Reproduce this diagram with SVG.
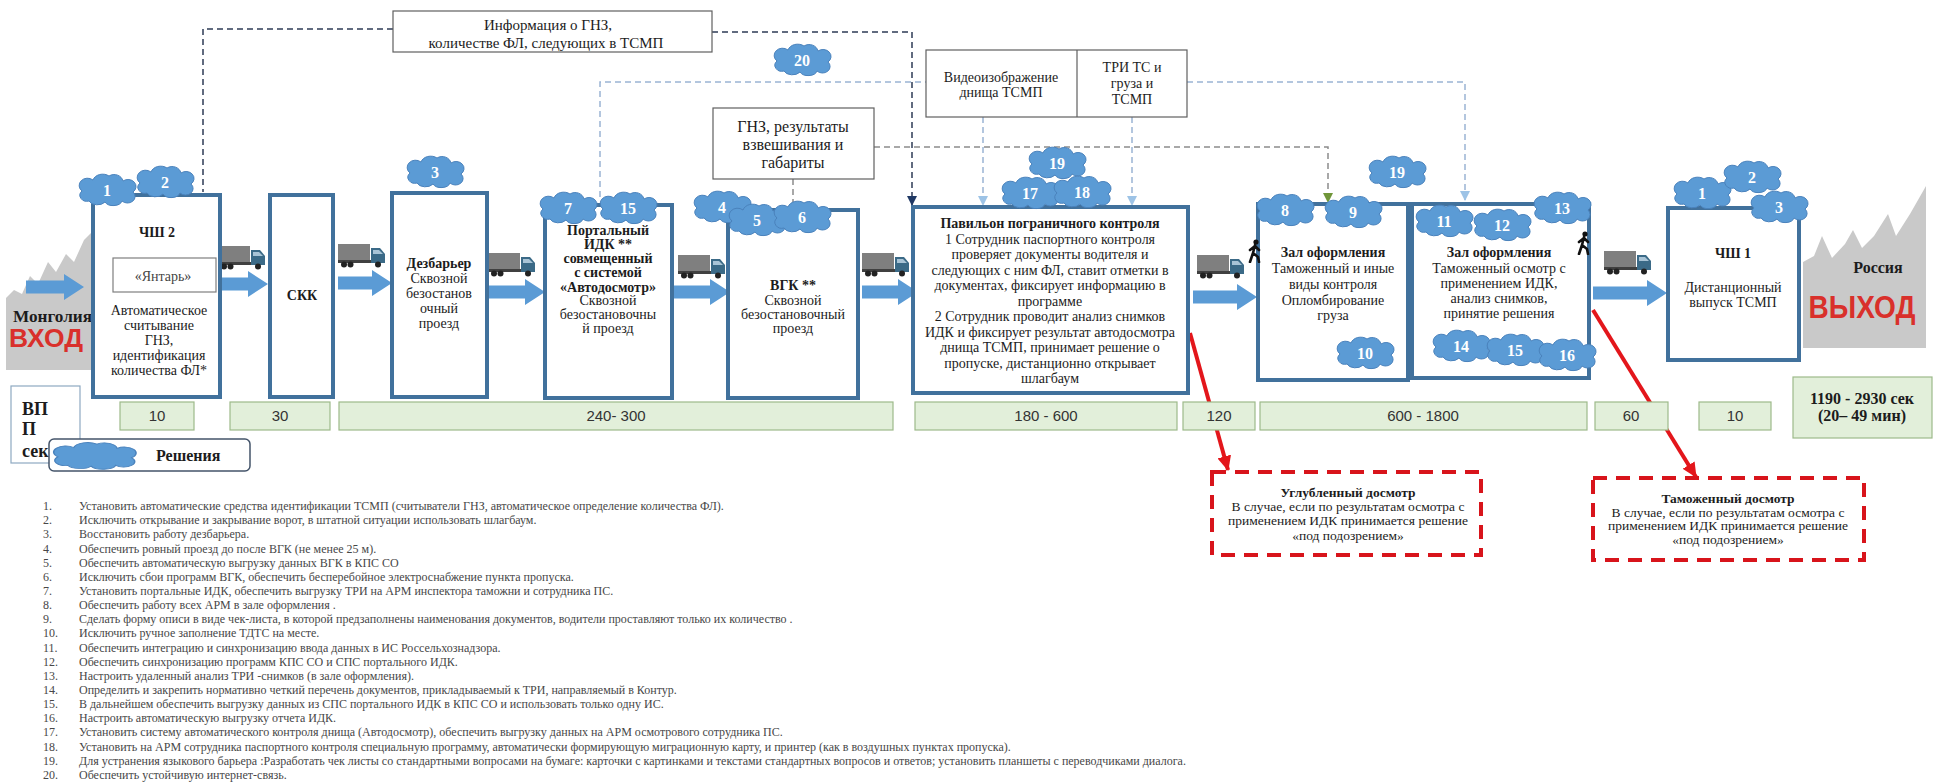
<svg xmlns="http://www.w3.org/2000/svg" xmlns:xlink="http://www.w3.org/1999/xlink" width="1935" height="783" viewBox="0 0 1935 783">
  <style>
    .box { fill: #ffffff; stroke: #41719C; stroke-width: 4; }
    .lbl { fill: #ffffff; stroke: #5f5f5f; stroke-width: 1.2; }
    .t { font-family: "Liberation Serif", "Times New Roman", serif; font-size: 14px; fill: #1c1c1c; text-anchor: middle; }
    .t13 { font-size: 13.5px; }
    .t15 { font-size: 15px; }
    .t16 { font-size: 16px; }
    .b { font-weight: bold; }
    .time { fill: #E2EFDA; stroke: #9DB98A; stroke-width: 1.2; }
    .tt { font-family: "Liberation Sans", Arial, sans-serif; font-size: 15px; fill: #333333; text-anchor: middle; }
    .cn { font-family: "Liberation Serif", "Times New Roman", serif; font-weight: bold; font-size: 16px; fill: #ffffff; text-anchor: middle; }
    .flow { fill: #5B9BD5; }
    .dk { fill: none; stroke: #2E3B55; stroke-width: 1.5; stroke-dasharray: 6 4; }
    .lb { fill: none; stroke: #9BB4D4; stroke-width: 1.5; stroke-dasharray: 6 4; }
    .gr { fill: none; stroke: #8C8C8C; stroke-width: 1.5; stroke-dasharray: 6 4; }
    .red { fill: none; stroke: #E3161B; stroke-width: 4; }
    .rbox { fill: #ffffff; stroke: #D8141B; stroke-width: 4; stroke-dasharray: 14 9; }
    .list { font-family: "Liberation Serif", "Times New Roman", serif; font-size: 12px; fill: #474747; }
    .mount { fill: #C9C9C9; }
  </style>
  <defs>
    <path id="cloud" d="M -18,11 A 7,6 0 0 1 -25,1 A 8,7 0 0 1 -14,-10 A 10,8 0 0 1 2,-14 A 9,8 0 0 1 16,-9 A 8,7 0 0 1 26,2 A 7,6 0 0 1 15,11 A 9,6 0 0 1 -2,12 A 9,6 0 0 1 -18,11 Z" fill="#5B9BD5" stroke="#4A82BC" stroke-width="1"/>
    <symbol id="truck" viewBox="0 0 48 24" width="48" height="24">
      <rect x="0" y="0" width="32" height="17" fill="#7F7F7F"/>
      <rect x="0" y="16" width="47" height="3" fill="#404040"/>
      <path d="M33,4 L42,4 L47,10 L47,19 L33,19 Z" fill="#3B6A87"/>
      <path d="M35,6 L41,6 L45,10 L35,10 Z" fill="#A9C4D6"/>
      <circle cx="6" cy="20.5" r="3" fill="#222222"/>
      <circle cx="12.5" cy="20.5" r="3" fill="#222222"/>
      <circle cx="40" cy="20.5" r="3" fill="#222222"/>
    </symbol>
    <symbol id="walker" viewBox="0 0 14 24" width="14" height="24">
      <circle cx="8" cy="3" r="2.6" fill="#111111"/>
      <path d="M7,6 L5,14 M7,7 L2,11 M7,7 L11,11 M5,14 L2,23 M5,14 L10,18 L11,23" stroke="#111111" stroke-width="2.6" fill="none" stroke-linecap="round" stroke-linejoin="round"/>
    </symbol>
    <marker id="mDk" markerUnits="userSpaceOnUse" markerWidth="12" markerHeight="10" refX="10" refY="5" orient="auto">
      <path d="M0,0 L10,5 L0,10 Z" fill="#1F3864"/>
    </marker>
    <marker id="mLb" markerUnits="userSpaceOnUse" markerWidth="12" markerHeight="10" refX="10" refY="5" orient="auto">
      <path d="M0,0 L10,5 L0,10 Z" fill="#9DC3E6"/>
    </marker>
    <marker id="mGn" markerUnits="userSpaceOnUse" markerWidth="12" markerHeight="10" refX="10" refY="5" orient="auto">
      <path d="M0,0 L10,5 L0,10 Z" fill="#70963A"/>
    </marker>
    <marker id="mRed" markerUnits="userSpaceOnUse" markerWidth="16" markerHeight="14" refX="14" refY="7" orient="auto">
      <path d="M0,0 L15,7 L0,14 Z" fill="#E3161B"/>
    </marker>
  </defs>

  <rect width="1935" height="783" fill="#ffffff"/>

  <!-- border areas -->
  <g id="mongolia">
    <polygon class="mount" points="6,370 6,298 14,290 22,294 30,276 38,284 48,262 56,272 66,254 74,262 84,240 92,232 92,370"/>
    <text x="13" y="322" class="t b" style="text-anchor:start;font-size:16px" textLength="79" lengthAdjust="spacingAndGlyphs">Монголия</text>
    <text x="9" y="347" style="font-family:'Liberation Sans',Arial,sans-serif;font-weight:bold;font-size:26px;fill:#D9302B" textLength="74" lengthAdjust="spacingAndGlyphs">ВХОД</text>
  </g>
  <g id="russia">
    <polygon class="mount" points="1803,348 1803,262 1814,256 1822,236 1832,258 1845,244 1853,230 1862,248 1874,236 1888,214 1896,236 1910,214 1926,186 1926,348"/>
    <text x="1878" y="273" class="t b t16">Россия</text>
    <text x="1862" y="318" style="font-family:'Liberation Sans',Arial,sans-serif;font-weight:bold;font-size:32px;fill:#D9302B;text-anchor:middle" textLength="107" lengthAdjust="spacingAndGlyphs">ВЫХОД</text>
  </g>

  <!-- connectors -->
  <g id="connectors">
    <!-- flow of vehicles -->
    <path class="flow" d="M26,280.5 L64,280.5 L64,274 L84,287 L64,300 L64,293.5 L26,293.5 Z"/>
    <path class="flow" d="M215,277.5 L248,277.5 L248,271 L268,284 L248,297 L248,290.5 L215,290.5 Z"/>
    <path class="flow" d="M338,276.5 L372,276.5 L372,270 L392,283 L372,296 L372,289.5 L338,289.5 Z"/>
    <path class="flow" d="M488,285.5 L525,285.5 L525,279 L545,292 L525,305 L525,298.5 L488,298.5 Z"/>
    <path class="flow" d="M673,285.5 L710,285.5 L710,279 L730,292 L710,305 L710,298.5 L673,298.5 Z"/>
    <path class="flow" d="M862,285.5 L898,285.5 L898,279 L918,292 L898,305 L898,298.5 L862,298.5 Z"/>
    <path class="flow" d="M1193,290.5 L1237,290.5 L1237,284 L1257,297 L1237,310 L1237,303.5 L1193,303.5 Z"/>
    <path class="flow" d="M1593,286.5 L1647,286.5 L1647,280 L1667,293 L1647,306 L1647,299.5 L1593,299.5 Z"/>
    <!-- information links -->
    <path class="dk" d="M393,29 L203,29 L203,192"/>
    <path class="dk" d="M712,32 L912,32 L912,206" marker-end="url(#mDk)"/>
    <path class="lb" d="M600,197 L600,82 L926,82"/>
    <path class="lb" d="M1187,82 L1465,82 L1465,201" marker-end="url(#mLb)"/>
    <path class="lb" d="M983,117 L983,206" marker-end="url(#mLb)"/>
    <path class="lb" d="M1132,117 L1132,206" marker-end="url(#mLb)"/>
    <path class="gr" d="M793,179 L793,205"/>
    <path class="gr" d="M874,147 L1328,147 L1328,203" marker-end="url(#mGn)"/>
    <!-- exceptions -->
    <path class="red" d="M1190,333 L1228,470" marker-end="url(#mRed)"/>
    <path class="red" d="M1593,310 L1696,477" marker-end="url(#mRed)"/>
  </g>

  <!-- trucks -->
  <g id="trucks">
    <use xlink:href="#truck" x="218" y="246"/>
    <use xlink:href="#truck" x="338" y="244"/>
    <use xlink:href="#truck" x="488" y="253"/>
    <use xlink:href="#truck" x="678" y="255"/>
    <use xlink:href="#truck" x="862" y="253"/>
    <use xlink:href="#truck" x="1197" y="255"/>
    <use xlink:href="#truck" x="1604" y="251"/>
  </g>

  <!-- stations -->
  <g id="node-chsh2">
    <rect class="box" x="93" y="195" width="127" height="202"/>
    <text x="157" y="237" class="t b">ЧШ 2</text>
    <rect class="lbl" x="113" y="258" width="103" height="34" style="stroke:#7f7f7f"/>
    <text x="163" y="281" class="t" style="fill:#444">«Янтарь»</text>
    <text x="159" y="315" class="t">Автоматическое</text>
    <text x="159" y="330" class="t">считывание</text>
    <text x="159" y="345" class="t">ГНЗ,</text>
    <text x="159" y="360" class="t">идентификация</text>
    <text x="159" y="375" class="t">количества ФЛ*</text>
  </g>

  <g id="node-skk">
    <rect class="box" x="270" y="195" width="63" height="202"/>
    <text x="302" y="300" class="t b">СКК</text>
  </g>

  <g id="node-dezbar">
    <rect class="box" x="392" y="193" width="95" height="204"/>
    <text x="439" y="268" class="t b">Дезбарьер</text>
    <text x="439" y="283" class="t">Сквозной</text>
    <text x="439" y="298" class="t">безостанов</text>
    <text x="439" y="313" class="t">очный</text>
    <text x="439" y="328" class="t">проезд</text>
  </g>

  <g id="node-portal">
    <rect class="box" x="545" y="205" width="127" height="193"/>
    <text x="608" y="235" class="t b">Портальный</text>
    <text x="608" y="249" class="t b">ИДК **</text>
    <text x="608" y="263" class="t b">совмещенный</text>
    <text x="608" y="277" class="t b">с системой</text>
    <text x="608" y="292" class="t b">«Автодосмотр»</text>
    <text x="608" y="305" class="t">Сквозной</text>
    <text x="608" y="319" class="t">безостановочны</text>
    <text x="608" y="333" class="t">й проезд</text>
  </g>

  <g id="node-vgk">
    <rect class="box" x="728" y="210" width="130" height="188"/>
    <text x="793" y="290" class="t b">ВГК **</text>
    <text x="793" y="305" class="t">Сквозной</text>
    <text x="793" y="319" class="t">безостановочный</text>
    <text x="793" y="333" class="t">проезд</text>
  </g>

  <g id="node-pavilion">
    <rect class="box" x="913" y="207" width="275" height="186"/>
    <text x="1050" y="228" class="t b">Павильон  пограничного контроля</text>
    <text x="1050" y="243.5" class="t">1 Сотрудник паспортного контроля</text>
    <text x="1050" y="259" class="t">проверяет документы водителя и</text>
    <text x="1050" y="274.5" class="t">следующих с ним ФЛ, ставит отметки в</text>
    <text x="1050" y="290" class="t">документах, фиксирует информацию в</text>
    <text x="1050" y="305.5" class="t">программе</text>
    <text x="1050" y="321" class="t">2 Сотрудник проводит анализ снимков</text>
    <text x="1050" y="336.5" class="t">ИДК и фиксирует результат автодосмотра</text>
    <text x="1050" y="352" class="t">днища ТСМП, принимает решение о</text>
    <text x="1050" y="367.5" class="t">пропуске, дистанционно открывает</text>
    <text x="1050" y="383" class="t">шлагбаум</text>
  </g>

  <g id="node-zal1">
    <rect class="box" x="1258" y="204" width="150" height="176"/>
    <use xlink:href="#walker" x="1248" y="239"/>
    <text x="1333" y="257" class="t b">Зал оформления</text>
    <text x="1333" y="273" class="t">Таможенный и иные</text>
    <text x="1333" y="289" class="t">виды контроля</text>
    <text x="1333" y="305" class="t">Опломбирование</text>
    <text x="1333" y="320" class="t">груза</text>
  </g>

  <g id="node-zal2">
    <rect class="box" x="1412" y="204" width="177" height="174"/>
    <use xlink:href="#walker" x="1577" y="231"/>
    <text x="1499" y="257" class="t b">Зал оформления</text>
    <text x="1499" y="273" class="t">Таможенный осмотр с</text>
    <text x="1499" y="288" class="t">применением ИДК,</text>
    <text x="1499" y="303" class="t">анализ снимков,</text>
    <text x="1499" y="318" class="t">принятие решения</text>
  </g>

  <g id="node-chsh1">
    <rect class="box" x="1668" y="208" width="131" height="152"/>
    <text x="1733" y="258" class="t b">ЧШ 1</text>
    <text x="1733" y="292" class="t">Дистанционный</text>
    <text x="1733" y="307" class="t">выпуск ТСМП</text>
  </g>

  <!-- information labels -->
  <g id="node-info">
    <rect class="lbl" x="393" y="11" width="319" height="41"/>
    <text x="548" y="30" class="t t15">Информация о ГНЗ,</text>
    <text x="546" y="48" class="t t15">количестве ФЛ, следующих в ТСМП</text>
  </g>

  <g id="node-gnz">
    <rect class="lbl" x="713" y="108" width="161" height="71"/>
    <text x="793" y="132" class="t t16">ГНЗ, результаты</text>
    <text x="793" y="150" class="t t16">взвешивания и</text>
    <text x="793" y="168" class="t t16">габариты</text>
  </g>

  <g id="node-video">
    <rect class="lbl" x="926" y="50" width="261" height="67"/>
    <line x1="1077" y1="50" x2="1077" y2="117" stroke="#5f5f5f" stroke-width="1.2"/>
    <text x="1001" y="82" class="t">Видеоизображение</text>
    <text x="1001" y="97" class="t">днища ТСМП</text>
    <text x="1132" y="72" class="t">ТРИ ТС и</text>
    <text x="1132" y="88" class="t">груза и</text>
    <text x="1132" y="104" class="t">ТСМП</text>
  </g>

  <!-- in-depth inspection outcomes -->
  <g id="node-deep">
    <rect class="rbox" x="1212" y="472" width="269" height="83"/>
    <text x="1348" y="497" class="t t13 b">Углубленный  досмотр</text>
    <text x="1348" y="511" class="t t13">В случае, если по результатам осмотра с</text>
    <text x="1348" y="525" class="t t13">применением ИДК принимается решение</text>
    <text x="1348" y="540" class="t t13">«под подозрением»</text>
  </g>

  <g id="node-customs">
    <rect class="rbox" x="1593" y="478" width="271" height="82"/>
    <text x="1728" y="503" class="t t13 b">Таможенный  досмотр</text>
    <text x="1728" y="517" class="t t13">В случае, если по результатам осмотра с</text>
    <text x="1728" y="530" class="t t13">применением ИДК принимается решение</text>
    <text x="1728" y="544" class="t t13">«под подозрением»</text>
  </g>

  <!-- time per stage, seconds -->
  <g id="times">
    <rect class="time" x="120" y="402" width="74" height="28"/>
    <text x="157" y="421" class="tt">10</text>
    <rect class="time" x="230" y="402" width="100" height="28"/>
    <text x="280" y="421" class="tt">30</text>
    <rect class="time" x="339" y="402" width="554" height="28"/>
    <text x="616" y="421" class="tt">240- 300</text>
    <rect class="time" x="915" y="402" width="262" height="28"/>
    <text x="1046" y="421" class="tt">180 - 600</text>
    <rect class="time" x="1183" y="402" width="72" height="28"/>
    <text x="1219" y="421" class="tt">120</text>
    <rect class="time" x="1260" y="402" width="327" height="28"/>
    <text x="1423" y="421" class="tt">600 - 1800</text>
    <rect class="time" x="1595" y="402" width="73" height="28"/>
    <text x="1631" y="421" class="tt">60</text>
    <rect class="time" x="1699" y="402" width="72" height="28"/>
    <text x="1735" y="421" class="tt">10</text>
    <rect class="time" x="1793" y="377" width="139" height="61"/>
    <text x="1862" y="404" class="t t16 b">1190 - 2930 сек</text>
    <text x="1862" y="421" class="t t16 b">(20– 49 мин)</text>
  </g>

  <!-- legend -->
  <g id="legend">
    <rect x="11" y="386" width="69" height="77" fill="#ffffff" stroke="#8EA9C1" stroke-width="1.2"/>
    <rect x="49" y="439" width="201" height="32" rx="5" fill="#ffffff" stroke="#44546A" stroke-width="1.5"/>
    <use xlink:href="#cloud" transform="translate(94,456) scale(1.45,0.85)"/>
    <text x="22" y="415" class="t b" style="text-anchor:start;font-size:18px">ВП</text>
    <text x="22" y="435" class="t b" style="text-anchor:start;font-size:18px">П</text>
    <text x="22" y="457" class="t b" style="text-anchor:start;font-size:18px">сек</text>
    <text x="156" y="461" class="t b t16" style="text-anchor:start">Решения</text>
  </g>

  <!-- numbered solutions -->
  <g id="solutions">
    <g id="s1a"><use xlink:href="#cloud" transform="translate(107,190)"/><text x="107" y="196" class="cn">1</text></g>
    <g id="s2a"><use xlink:href="#cloud" transform="translate(165,182)"/><text x="165" y="188" class="cn">2</text></g>
    <g id="s3a"><use xlink:href="#cloud" transform="translate(435,172)"/><text x="435" y="178" class="cn">3</text></g>
    <g id="s7"><use xlink:href="#cloud" transform="translate(568,208)"/><text x="568" y="214" class="cn">7</text></g>
    <g id="s15a"><use xlink:href="#cloud" transform="translate(628,208)"/><text x="628" y="214" class="cn">15</text></g>
    <g id="s4"><use xlink:href="#cloud" transform="translate(722,207)"/><text x="722" y="213" class="cn">4</text></g>
    <g id="s5"><use xlink:href="#cloud" transform="translate(757,220)"/><text x="757" y="226" class="cn">5</text></g>
    <g id="s6"><use xlink:href="#cloud" transform="translate(802,217)"/><text x="802" y="223" class="cn">6</text></g>
    <g id="s20"><use xlink:href="#cloud" transform="translate(802,60)"/><text x="802" y="66" class="cn">20</text></g>
    <g id="s19a"><use xlink:href="#cloud" transform="translate(1057,163)"/><text x="1057" y="169" class="cn">19</text></g>
    <g id="s17"><use xlink:href="#cloud" transform="translate(1030,193)"/><text x="1030" y="199" class="cn">17</text></g>
    <g id="s18"><use xlink:href="#cloud" transform="translate(1082,192)"/><text x="1082" y="198" class="cn">18</text></g>
    <g id="s8"><use xlink:href="#cloud" transform="translate(1285,210)"/><text x="1285" y="216" class="cn">8</text></g>
    <g id="s9"><use xlink:href="#cloud" transform="translate(1353,212)"/><text x="1353" y="218" class="cn">9</text></g>
    <g id="s10"><use xlink:href="#cloud" transform="translate(1365,353)"/><text x="1365" y="359" class="cn">10</text></g>
    <g id="s19b"><use xlink:href="#cloud" transform="translate(1397,172)"/><text x="1397" y="178" class="cn">19</text></g>
    <g id="s11"><use xlink:href="#cloud" transform="translate(1444,221)"/><text x="1444" y="227" class="cn">11</text></g>
    <g id="s12"><use xlink:href="#cloud" transform="translate(1502,225)"/><text x="1502" y="231" class="cn">12</text></g>
    <g id="s13"><use xlink:href="#cloud" transform="translate(1562,208)"/><text x="1562" y="214" class="cn">13</text></g>
    <g id="s14"><use xlink:href="#cloud" transform="translate(1461,346)"/><text x="1461" y="352" class="cn">14</text></g>
    <g id="s15b"><use xlink:href="#cloud" transform="translate(1515,350)"/><text x="1515" y="356" class="cn">15</text></g>
    <g id="s16"><use xlink:href="#cloud" transform="translate(1567,355)"/><text x="1567" y="361" class="cn">16</text></g>
    <g id="s1b"><use xlink:href="#cloud" transform="translate(1702,193)"/><text x="1702" y="199" class="cn">1</text></g>
    <g id="s2b"><use xlink:href="#cloud" transform="translate(1752,177)"/><text x="1752" y="183" class="cn">2</text></g>
    <g id="s3b"><use xlink:href="#cloud" transform="translate(1779,207)"/><text x="1779" y="213" class="cn">3</text></g>
  </g>

  <!-- list of solutions -->
  <g id="solution-list" class="list">
    <text x="43" y="510">1.</text><text x="79" y="510">Установить автоматические средства идентификации ТСМП (считыватели ГНЗ, автоматическое определение количества ФЛ).</text>
    <text x="43" y="524.2">2.</text><text x="79" y="524.2">Исключить открывание и закрывание ворот, в штатной ситуации использовать шлагбаум.</text>
    <text x="43" y="538.3">3.</text><text x="79" y="538.3">Восстановить работу дезбарьера.</text>
    <text x="43" y="552.5">4.</text><text x="79" y="552.5">Обеспечить ровный проезд до после ВГК (не менее 25 м).</text>
    <text x="43" y="566.6">5.</text><text x="79" y="566.6">Обеспечить автоматическую выгрузку данных ВГК в КПС СО</text>
    <text x="43" y="580.8">6.</text><text x="79" y="580.8">Исключить сбои программ ВГК, обеспечить бесперебойное электроснабжение пункта пропуска.</text>
    <text x="43" y="594.9">7.</text><text x="79" y="594.9">Установить портальные ИДК, обеспечить выгрузку ТРИ на АРМ инспектора таможни и сотрудника ПС.</text>
    <text x="43" y="609.1">8.</text><text x="79" y="609.1">Обеспечить работу всех АРМ в зале оформления .</text>
    <text x="43" y="623.2">9.</text><text x="79" y="623.2">Сделать форму описи в виде чек-листа, в которой предзаполнены наименования документов, водители проставляют только их количество .</text>
    <text x="43" y="637.4">10.</text><text x="79" y="637.4">Исключить ручное заполнение ТДТС на месте.</text>
    <text x="43" y="651.5">11.</text><text x="79" y="651.5">Обеспечить интеграцию и синхронизацию ввода данных в ИС Россельхознадзора.</text>
    <text x="43" y="665.7">12.</text><text x="79" y="665.7">Обеспечить синхронизацию программ КПС СО и СПС портального ИДК.</text>
    <text x="43" y="679.8">13.</text><text x="79" y="679.8">Настроить удаленный анализ ТРИ -снимков (в зале оформления).</text>
    <text x="43" y="694">14.</text><text x="79" y="694">Определить и закрепить нормативно четкий перечень документов, прикладываемый к ТРИ, направляемый в Контур.</text>
    <text x="43" y="708.1">15.</text><text x="79" y="708.1">В дальнейшем обеспечить выгрузку данных из СПС портального ИДК в КПС СО и использовать только одну ИС.</text>
    <text x="43" y="722.3">16.</text><text x="79" y="722.3">Настроить автоматическую выгрузку отчета ИДК.</text>
    <text x="43" y="736.4">17.</text><text x="79" y="736.4">Установить систему автоматического контроля днища (Автодосмотр), обеспечить выгрузку данных на АРМ осмотрового сотрудника ПС.</text>
    <text x="43" y="750.6">18.</text><text x="79" y="750.6">Установить на АРМ сотрудника паспортного контроля специальную программу, автоматически формирующую миграционную карту, и принтер (как в воздушных пунктах пропуска).</text>
    <text x="43" y="764.7">19.</text><text x="79" y="764.7">Для устранения языкового барьера :Разработать чек листы со стандартными вопросами на бумаге: карточки с картинками и текстами стандартных вопросов и ответов; установить планшеты с переводчиками диалога.</text>
    <text x="43" y="778.9">20.</text><text x="79" y="778.9">Обеспечить устойчивую интернет-связь.</text>
  </g>
</svg>
